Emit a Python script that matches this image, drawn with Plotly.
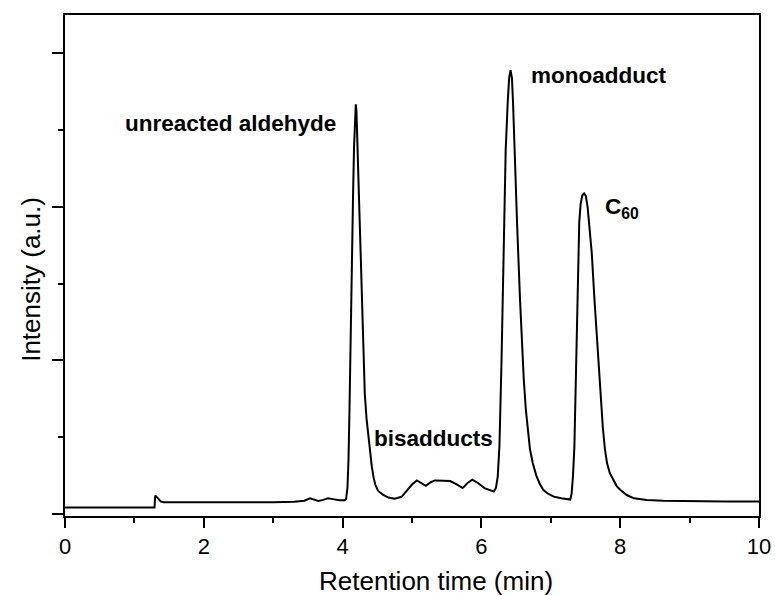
import plotly.graph_objects as go

# Retention time (min) and intensity (a.u.)
retention_time = [
    0.00, 1.29, 1.30, 1.32, 1.35, 1.38, 1.42, 2.00, 2.50, 3.00, 3.30, 3.45, 3.53, 3.60, 3.65, 3.72, 3.79, 3.86, 3.95, 4.03,
    4.05, 4.07, 4.085, 4.10, 4.12, 4.15, 4.165, 4.18, 4.19, 4.20, 4.218, 4.236, 4.26, 4.28, 4.30, 4.32, 4.345, 4.37,
    4.40, 4.42, 4.445, 4.47, 4.51, 4.58, 4.66, 4.75, 4.85, 4.95, 5.00, 5.07, 5.13, 5.20, 5.27, 5.33, 5.45, 5.55, 5.65, 5.73,
    5.80, 5.87, 5.95, 6.05, 6.18,
    6.21, 6.235, 6.25, 6.26, 6.29, 6.32, 6.35, 6.38, 6.40, 6.42, 6.44, 6.455, 6.48, 6.515, 6.556, 6.58, 6.61, 6.64,
    6.67, 6.70, 6.74, 6.79, 6.84, 6.89, 6.96, 7.05, 7.15, 7.23, 7.28,
    7.30, 7.32, 7.34, 7.36, 7.38, 7.41, 7.43, 7.455, 7.48, 7.505, 7.53, 7.55, 7.59, 7.63, 7.675, 7.72, 7.75, 7.78,
    7.81, 7.85, 7.90, 7.95, 8.00, 8.10, 8.20, 8.38, 8.62, 9.00, 9.50, 10.00,
]
intensity = [
    0.041, 0.041, 0.119, 0.108, 0.090, 0.080, 0.075, 0.074, 0.074, 0.075, 0.078, 0.085, 0.100, 0.092, 0.083, 0.090, 0.100, 0.095, 0.088, 0.087,
    0.095, 0.170, 0.350, 0.700, 1.390, 2.060, 2.390, 2.620, 2.668, 2.620, 2.390, 2.060, 1.700, 1.390, 1.050, 0.780, 0.620, 0.510,
    0.380, 0.310, 0.240, 0.190, 0.150, 0.124, 0.105, 0.098, 0.110, 0.160, 0.190, 0.217, 0.200, 0.182, 0.205, 0.217, 0.215, 0.213, 0.190, 0.167,
    0.200, 0.221, 0.200, 0.165, 0.145,
    0.170, 0.240, 0.330, 0.440, 1.000, 1.700, 2.370, 2.690, 2.840, 2.890, 2.840, 2.690, 2.300, 1.880, 1.400, 1.150, 0.880, 0.680,
    0.530, 0.420, 0.330, 0.250, 0.195, 0.156, 0.130, 0.110, 0.100, 0.096, 0.092,
    0.130, 0.250, 0.440, 0.900, 1.350, 1.900, 2.020, 2.075, 2.087, 2.070, 2.000, 1.900, 1.700, 1.390, 1.070, 0.740, 0.560, 0.420,
    0.330, 0.265, 0.220, 0.180, 0.156, 0.120, 0.100, 0.090, 0.085, 0.082, 0.080, 0.080,
]

label_texts = ["unreacted aldehyde", "bisadducts", "monoadduct", "C<sub>60</sub>"]
label_x = [0.836, 4.43, 6.69, 7.75]
label_y = [2.54, 0.49, 2.856, 1.995]

x_title = "Retention time (min)"
y_title = "Intensity (a.u.)"

FONT = "Liberation Sans, Arial, sans-serif"

fig = go.Figure()
fig.add_trace(go.Scatter(
    x=retention_time, y=intensity, mode="lines",
    line=dict(color="black", width=2),
    showlegend=False, hoverinfo="skip",
))

for t, lx, ly in zip(label_texts, label_x, label_y):
    fig.add_annotation(x=lx, y=ly, xref="x", yref="y", text="<b>" + t + "</b>",
                       showarrow=False, xanchor="left", yanchor="middle",
                       font=dict(family=FONT, size=22.5, color="black"))

# axis titles (placed as in the reference, slightly off-centre)
fig.add_annotation(x=0.534, y=-0.13, xref="paper", yref="paper", text=x_title,
                   showarrow=False, xanchor="center", yanchor="middle",
                   font=dict(family=FONT, size=26, color="black"))
fig.add_annotation(x=-0.05, y=0.472, xref="paper", yref="paper", text=y_title,
                   showarrow=False, xanchor="center", yanchor="middle", textangle=-90,
                   font=dict(family=FONT, size=26, color="black"))

fig.update_layout(
    width=775, height=595,
    margin=dict(l=65, r=16, t=15, b=79),
    paper_bgcolor="white", plot_bgcolor="white",
    font=dict(family=FONT, color="black"),
    xaxis=dict(
        range=[0, 10], dtick=2, tick0=0, automargin=False,
        showline=True, linecolor="black", linewidth=2, mirror=True,
        ticks="outside", ticklen=10, tickwidth=2, tickcolor="black",
        minor=dict(dtick=1, ticks="outside", ticklen=5, tickwidth=2, tickcolor="black"),
        showgrid=False, zeroline=False,
        tickfont=dict(family=FONT, size=22, color="black"),
    ),
    yaxis=dict(
        range=[-0.015, 3.25], dtick=1, tick0=0, automargin=False,
        showline=True, linecolor="black", linewidth=2, mirror=True,
        ticks="outside", ticklen=11, tickwidth=2, tickcolor="black",
        minor=dict(dtick=0.5, ticks="outside", ticklen=5, tickwidth=2, tickcolor="black"),
        showgrid=False, zeroline=False, showticklabels=False,
    ),
)

fig.write_html("out.html")
